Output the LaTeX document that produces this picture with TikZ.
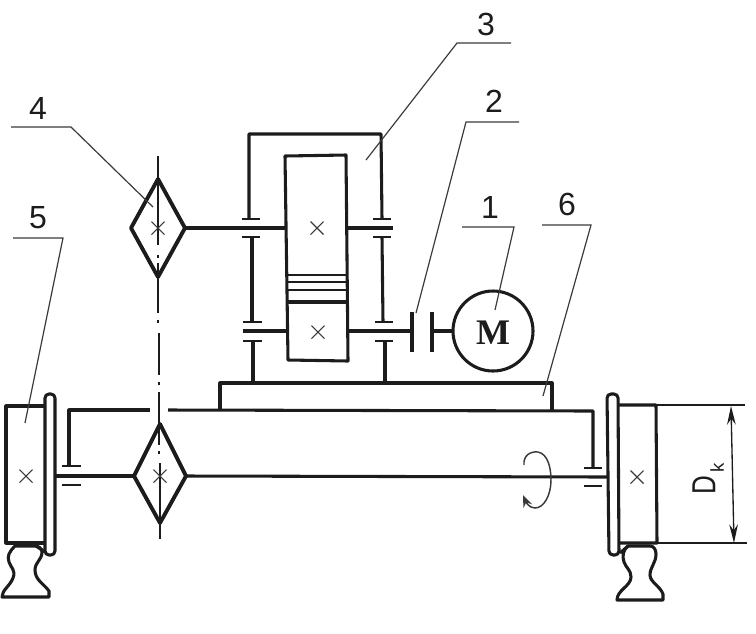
\documentclass[tikz,border=0pt]{standalone}
\usepackage{fontspec}
\setmainfont{Liberation Sans}
\newfontfamily\motorfont{Liberation Serif}
\usetikzlibrary{arrows.meta}
\definecolor{ink}{HTML}{1C1C1C}
\definecolor{leadc}{HTML}{3A3A3A}
\tikzset{
  x=0.75pt,y=-0.75pt,
  thick line/.style={draw=ink,line width=2.9pt,line join=round},
  main line/.style={draw=ink,line width=2.3pt,line join=round},
  bar line/.style={draw=ink,line width=1.9pt},
  leader/.style={draw=leadc,line width=0.9pt,line join=miter},
  thin line/.style={draw=ink,line width=1pt},
  cross line/.style={draw=leadc,line width=0.8pt},
  digit/.style={font=\fontsize{24}{24}\selectfont,text=ink,inner sep=0pt},
}
\newcommand{\crossmark}[2]{\draw[cross line] (#1-6.5,#2-6.5) -- (#1+6.5,#2+6.5) (#1-6.5,#2+6.5) -- (#1+6.5,#2-6.5);}
\begin{document}
\begin{tikzpicture}
\useasboundingbox (0,0) rectangle (756,633);
% centre line
\draw[thin line] (158,156) -- (158,245);
\draw[thin line] (158,255) -- (158,258);
\draw[thin line] (158,263) -- (158,313);
\draw[thin line] (158,320) -- (158,323);
\draw[thin line] (159,333) -- (159,375);
\draw[thin line] (159,382) -- (159,385);
\draw[thin line] (159,392) -- (159,445);
\draw[thin line] (159,451) -- (159,454);
\draw[thin line] (160,463) -- (160,539);
% diamonds
\draw[thick line] (158,179) -- (185,228) -- (158,277) -- (131,228) -- cycle;
\draw[thick line] (160,424) -- (186,476) -- (160,523) -- (134,476) -- cycle;
\crossmark{158}{228}
\crossmark{160}{476}
% gearbox housing
\draw[main line] (249,219) -- (249,134) -- (381,134) -- (382,219);
\draw[main line] (252,237) -- (252,322);
\draw[main line] (382,237) -- (383,322);
\draw[main line] (253,341) -- (253,383);
\draw[main line] (385,341) -- (385,383);
% bearing bars
\foreach \xa/\xb/\yy in {242/260/219,242/260/237,373/391/219,373/391/237,243/262/322,243/262/341,375/393/322,375/393/341}
  \draw[bar line] (\xa,\yy) -- (\xb,\yy);
% gear block
\draw[main line] (285,156) -- (346,155) -- (348,361) -- (288,360) -- cycle;
\draw[thin line] (288,275) -- (347,275);
\draw[thin line] (288,282) -- (347,282);
\draw[thin line] (288,290) -- (347,290);
\draw[main line] (288,302) -- (347,302);
\crossmark{317}{228}
\crossmark{318}{332}
% shafts
\draw[main line] (185,228) -- (285,228);
\draw[main line] (346,228) -- (393,228);
\draw[main line] (243,331) -- (288,331);
\draw[main line] (348,331) -- (412,331);
% coupling and motor
\draw[main line] (412,312) -- (412,352);
\draw[main line] (432,312) -- (432,352);
\draw[main line] (432,331) -- (452,331);
\draw[main line] (493,331) circle[radius=40];
\node[font=\motorfont\bfseries\fontsize{27}{27}\selectfont,text=ink,inner sep=0pt] (motor) at (493,333) {M};
% base
\draw[main line] (220,410) -- (220,383) -- (552,383) -- (552,411);
% cross frame
\draw[main line] (69,466) -- (69,410) -- (150,410);
\draw[main line] (168,410) -- (593,411) -- (593,468);
\draw[bar line] (62,466) -- (81,466);
\draw[bar line] (62,485) -- (81,485);
\draw[bar line] (584,468) -- (602,468);
\draw[bar line] (584,486) -- (602,486);
% axle
\draw[main line] (55,476) -- (134,476);
\draw[main line] (186,476) -- (608,477);
% left wheel
\draw[main line] (45,406) -- (6,406) -- (6,543) -- (45,543);
\draw[main line,rounded corners=3pt] (45,394) rectangle (55,555);
\crossmark{26}{476}
% right wheel
\draw[main line] (618,405) -- (656,405) -- (657,543) -- (620,543);
\draw[main line,rounded corners=3pt] (607,394) -- (618,394) -- (619,555) -- (609,555) -- cycle;
\crossmark{637}{477}
% left rail
\draw[main line] (15,546) .. controls (9,552) and (7,556) .. (9,562)
  .. controls (11,568) and (16,570) .. (13,578)
  .. controls (10,586) and (2,590) .. (2,597)
  -- (49,597) -- (49,591)
  .. controls (44,584) and (35,580) .. (35,570)
  .. controls (35,562) and (42,560) .. (42,552)
  .. controls (42,548) and (38,546) .. (35,546) -- cycle;
\draw[main line] (36,546) -- (45,552);
% right rail
\draw[main line] (628,546) .. controls (623,550) and (622,556) .. (624,562)
  .. controls (626,568) and (631,570) .. (631,577)
  .. controls (631,586) and (617,590) .. (617,600)
  -- (663,600) -- (663,594)
  .. controls (660,586) and (650,582) .. (650,575)
  .. controls (650,567) and (656,563) .. (656,554)
  .. controls (656,550) and (654,546) .. (650,546) -- cycle;
\draw[main line] (628,546) -- (620,553);
% dimension
\draw[thin line] (656,405) -- (745,405);
\draw[thin line] (656,543) -- (747,543);
\draw[thin line,{Stealth[length=14pt,width=6.5pt]}-{Stealth[length=14pt,width=6.5pt]}] (731,406) -- (734,543);
\node[rotate=90,font=\fontsize{25}{25}\selectfont,text=ink,inner sep=0pt] (dia) at (704,485) {\scalebox{0.78}[1]{D}};
\node[rotate=90,font=\fontsize{14}{14}\selectfont,text=ink,inner sep=0pt] (dik) at (717,468) {k};
% rotation arrow
\draw[leader,line width=1.1pt,-{Stealth[length=9pt,width=7pt]}] (524,465)
  .. controls (523,456) and (530,451) .. (538,452)
  .. controls (548,454) and (551,468) .. (551,480)
  .. controls (551,495) and (544,508) .. (535,508)
  .. controls (529,508) and (526,502) .. (523,495);
% leaders and labels
\node[digit] (n4) at (38,108) {4};
\node[digit] (n5) at (38,218) {5};
\node[digit] (n3) at (486,24) {3};
\node[digit] (n2) at (494,101) {2};
\node[digit] (n1) at (490,207) {1};
\node[digit] (n6) at (567,204) {6};
\draw[leader] (11,127) -- (71,127) -- (153,207);
\draw[leader] (13,238) -- (63,238) -- (25,423);
\draw[leader] (511,43) -- (457,43) -- (366,160);
\draw[leader] (519,122) -- (466,122) -- (416,313);
\draw[leader] (462,227) -- (514,227) -- (495,310);
\draw[leader] (542,225) -- (591,225) -- (543,396);
\end{tikzpicture}
\end{document}
